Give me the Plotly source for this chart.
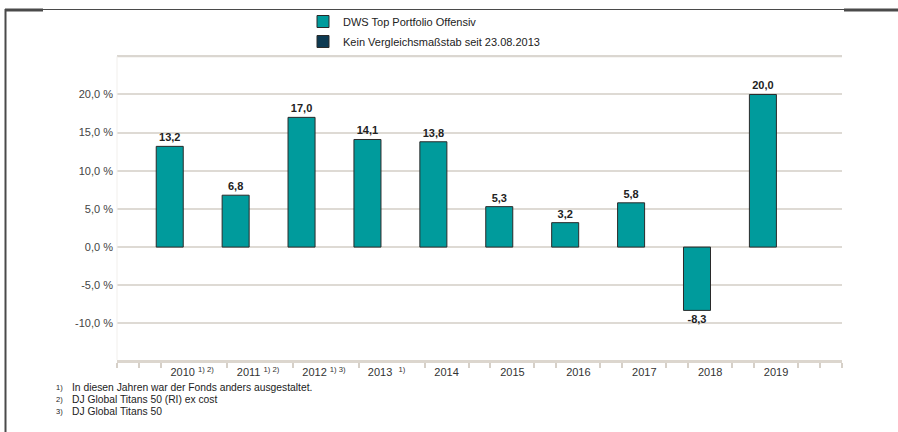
import plotly.graph_objects as go

# ---------------- data ----------------
years = [2010, 2011, 2012, 2013, 2014, 2015, 2016, 2017, 2018, 2019]
year_labels = ["2010 <sup>1) 2)</sup>", "2011 <sup>1) 2)</sup>", "2012 <sup>1) 3)</sup>",
               "2013 \u00a0<sup>1)</sup>", "2014", "2015", "2016", "2017", "2018", "2019"]
fund_returns = [13.2, 6.8, 17.0, 14.1, 13.8, 5.3, 3.2, 5.8, -8.3, 20.0]
series_names = ["DWS Top Portfolio Offensiv", "Kein Vergleichsmaßstab seit 23.08.2013"]
y_tick_values = [-10, -5, 0, 5, 10, 15, 20, 25]
y_tick_labels = ["-10,0 %", "-5,0 %", "0,0 %", "5,0 %", "10,0 %", "15,0 %", "20,0 %", ""]
footnote_marks = ["1)", "2)", "3)"]
footnote_texts = ["In diesen Jahren war der Fonds anders ausgestaltet.",
                  "DJ Global Titans 50 (RI) ex cost",
                  "DJ Global Titans 50"]

# ---------------- layout constants ----------------
W, H = 898, 432
ML, MR, MT, MB = 117, 56, 48, 72
PW, PH = W - ML - MR, H - MT - MB
FONT = "Liberation Sans, Arial, sans-serif"
TEAL = "#009b9c"
NAVY = "#0d3a52"
GRID = "#dedad4"
Y_MIN = -14.8
Y_MAX = Y_MIN + PH / 7.63

x_left = years[0] - 0.8
x_right = x_left + 11
label_offset = 0.2
label_shift = [0.14, 0.14, 0.14, 0.09, 0, 0, 0, 0, 0, 0]
label_pos = [y + label_offset + s for y, s in zip(years, label_shift)]

# minor tick marks every third of a slot, hidden where labels sit
minor_ticks = []
for k in range(34):
    pos = x_left + k / 3
    if k % 3 == 0 and 3 <= k <= 30:
        continue
    if k % 3 == 1 and (k - 1) // 3 - 1 in range(4):
        continue
    minor_ticks.append(pos)


def fmt(v):
    return f"{v:.1f}".replace(".", ",")


def px_x(p):
    return (p - ML) / PW


def px_y(p):
    return (H - MB - p) / PH


top_grid = (y_tick_values[-1] - Y_MIN) / (Y_MAX - Y_MIN)

fig = go.Figure()
fig.add_trace(go.Bar(
    x=years, y=fund_returns, name=series_names[0], width=0.41,
    marker=dict(color=TEAL, line=dict(color="#2a2a2a", width=1)),
    text=[fmt(v) for v in fund_returns], textposition="outside",
    textfont=dict(size=11, color="#222", family=FONT, weight="bold"),
    cliponaxis=False, legendgroup="a",
))
fig.add_trace(go.Bar(
    x=[years[0]], y=[None], name=series_names[1],
    marker=dict(color=NAVY, line=dict(color="#2a2a2a", width=1)),
    legendgroup="b",
))

shapes = [
    # top (unlabelled) gridline
    dict(type="line", xref="paper", yref="paper", x0=0, x1=1, y0=top_grid,
         y1=top_grid, layer="above", line=dict(color="#dad6d0", width=2)),
    # faint left edge of plot
    dict(type="line", xref="paper", yref="paper", x0=0, x1=0, y0=0,
         y1=top_grid, layer="above", line=dict(color="#f1efec", width=1)),
    # frame lines
    dict(type="line", xref="paper", yref="paper", x0=px_x(5), x1=px_x(898),
         y0=px_y(9.5), y1=px_y(9.5), line=dict(color="#4a4a4a", width=1)),
    dict(type="line", xref="paper", yref="paper", x0=px_x(5), x1=px_x(43),
         y0=px_y(10), y1=px_y(10), line=dict(color="#4a4a4a", width=3)),
    dict(type="line", xref="paper", yref="paper", x0=px_x(844), x1=px_x(898),
         y0=px_y(10), y1=px_y(10), line=dict(color="#4a4a4a", width=3)),
    dict(type="line", xref="paper", yref="paper", x0=px_x(5.5), x1=px_x(5.5),
         y0=px_y(9), y1=px_y(432), line=dict(color="#4a4a4a", width=2)),
]

annotations = []
for i, (m, t) in enumerate(zip(footnote_marks, footnote_texts)):
    yy = px_y(388 + 11.8 * i)
    annotations.append(dict(xref="paper", yref="paper", x=px_x(54), y=yy, text=m,
                            showarrow=False, xanchor="left", yanchor="middle",
                            font=dict(size=7.5, color="#222", family=FONT)))
    annotations.append(dict(xref="paper", yref="paper", x=px_x(70), y=yy, text=t,
                            showarrow=False, xanchor="left", yanchor="middle",
                            font=dict(size=10.3, color="#222", family=FONT)))

fig.update_layout(
    width=W, height=H,
    margin=dict(l=ML, r=MR, t=MT, b=MB, autoexpand=False),
    paper_bgcolor="white", plot_bgcolor="rgba(0,0,0,0)",
    font=dict(family=FONT, size=11, color="#333"),
    showlegend=True, barmode="overlay",
    legend=dict(x=px_x(303), y=px_y(7), xanchor="left", yanchor="top",
                orientation="v", font=dict(size=11, color="#222", family=FONT),
                bgcolor="rgba(255,255,255,0)", traceorder="grouped", tracegroupgap=1),
    xaxis=dict(range=[x_left, x_right], tickmode="array", tickvals=label_pos,
               ticktext=year_labels, ticks="", showgrid=False, zeroline=False,
               showline=True, linecolor="#dcd6ce", linewidth=3,
               tickfont=dict(size=11, color="#333", family=FONT),
               minor=dict(tickmode="array", tickvals=minor_ticks, ticks="outside",
                          ticklen=5, tickwidth=1.5, tickcolor="#d6d0c8", showgrid=False)),
    yaxis=dict(range=[Y_MIN, Y_MAX], tickmode="array", tickvals=y_tick_values,
               ticktext=y_tick_labels, ticks="", showgrid=True, gridcolor=GRID,
               gridwidth=1.5, zeroline=False, showline=False,
               ticklabelstandoff=3,
               tickfont=dict(size=11, color="#444", family=FONT)),
    shapes=shapes, annotations=annotations,
)

fig.write_html("out.html", config={"displayModeBar": False},
               post_script="document.body.style.margin='0';")
